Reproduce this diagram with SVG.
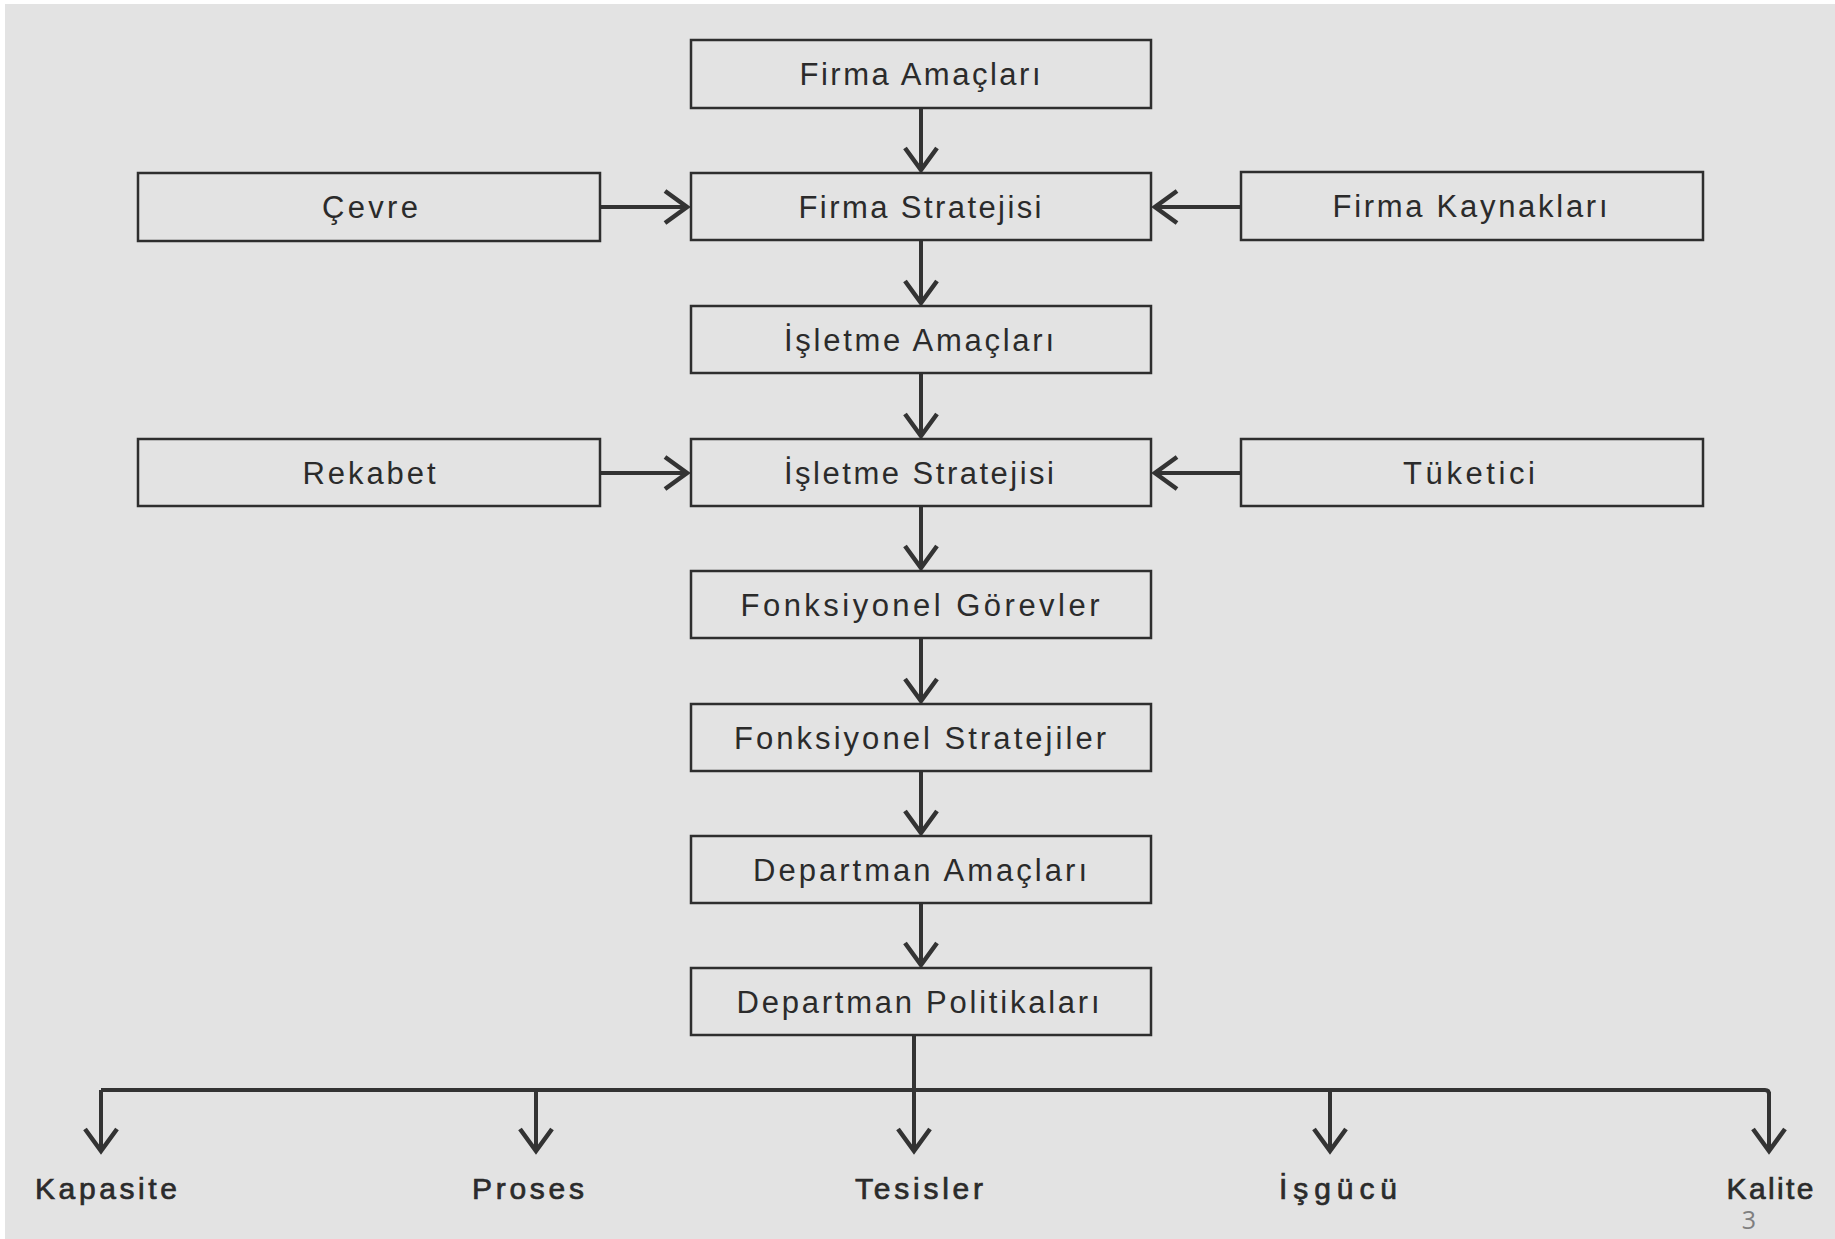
<svg xmlns="http://www.w3.org/2000/svg" width="1835" height="1239" viewBox="0 0 1835 1239">
<style>
.box{fill:none;stroke:#2e2e2e;stroke-width:2.5}
.t{font-family:"Liberation Sans",Arial,sans-serif;font-size:31px;fill:#2b2b2b;text-anchor:middle}
.b{font-family:"Liberation Sans",Arial,sans-serif;font-size:30px;fill:#2b2b2b;stroke:#2b2b2b;stroke-width:0.7;text-anchor:middle}
.c{fill:none;stroke:#333;stroke-width:4}
.a{marker-end:url(#arr)}
</style>
<defs>
<marker id="arr" markerUnits="userSpaceOnUse" markerWidth="50" markerHeight="50" viewBox="-30 -25 50 50" refX="0" refY="0" orient="auto" overflow="visible">
<path d="M-23,-16 L-1,0 L-23,16" fill="none" stroke="#333" stroke-width="4.5"/>
</marker>
</defs>
<rect x="0" y="0" width="1835" height="1239" fill="#ffffff"/>
<rect x="5" y="4" width="1830" height="1235" fill="#e3e3e3"/>
<g id="connectors">
<line class="c a" x1="921" y1="108" x2="921" y2="171"/>
<line class="c a" x1="921" y1="240" x2="921" y2="304"/>
<line class="c a" x1="921" y1="373" x2="921" y2="437"/>
<line class="c a" x1="921" y1="506" x2="921" y2="569"/>
<line class="c a" x1="921" y1="638" x2="921" y2="702"/>
<line class="c a" x1="921" y1="771" x2="921" y2="834"/>
<line class="c a" x1="921" y1="903" x2="921" y2="966"/>
<line class="c a" x1="600" y1="207" x2="688" y2="207"/>
<line class="c a" x1="1241" y1="207" x2="1154" y2="207"/>
<line class="c a" x1="600" y1="473" x2="688" y2="473"/>
<line class="c a" x1="1241" y1="473" x2="1154" y2="473"/>
<line class="c a" x1="914" y1="1035" x2="914" y2="1152"/>
<path class="c" d="M101,1090 H1765 Q1769,1090 1769,1094"/>
<line class="c a" x1="101" y1="1090" x2="101" y2="1152"/>
<line class="c a" x1="536" y1="1090" x2="536" y2="1152"/>
<line class="c a" x1="1330" y1="1090" x2="1330" y2="1152"/>
<line class="c a" x1="1769" y1="1092" x2="1769" y2="1152"/>
</g>
<g id="firma-amaclari"><rect class="box" x="691" y="40" width="460" height="68"/><text class="t" x="920" y="85" textLength="241" lengthAdjust="spacing">Firma Amaçları</text></g>
<g id="firma-stratejisi"><rect class="box" x="691" y="173" width="460" height="67"/><text class="t" x="920" y="218" textLength="243" lengthAdjust="spacing">Firma Stratejisi</text></g>
<g id="cevre"><rect class="box" x="138" y="173" width="462" height="68"/><text class="t" x="370" y="218" textLength="96" lengthAdjust="spacing">Çevre</text></g>
<g id="firma-kaynaklari"><rect class="box" x="1241" y="172" width="462" height="68"/><text class="t" x="1470" y="217" textLength="275" lengthAdjust="spacing">Firma Kaynakları</text></g>
<g id="isletme-amaclari"><rect class="box" x="691" y="306" width="460" height="67"/><text class="t" x="919" y="351" textLength="270" lengthAdjust="spacing">İşletme Amaçları</text></g>
<g id="isletme-stratejisi"><rect class="box" x="691" y="439" width="460" height="67"/><text class="t" x="919" y="484" textLength="270" lengthAdjust="spacing">İşletme Stratejisi</text></g>
<g id="rekabet"><rect class="box" x="138" y="439" width="462" height="67"/><text class="t" x="369" y="484" textLength="133" lengthAdjust="spacing">Rekabet</text></g>
<g id="tuketici"><rect class="box" x="1241" y="439" width="462" height="67"/><text class="t" x="1469" y="484" textLength="132" lengthAdjust="spacing">Tüketici</text></g>
<g id="fonksiyonel-gorevler"><rect class="box" x="691" y="571" width="460" height="67"/><text class="t" x="920" y="616" textLength="359" lengthAdjust="spacing">Fonksiyonel Görevler</text></g>
<g id="fonksiyonel-stratejiler"><rect class="box" x="691" y="704" width="460" height="67"/><text class="t" x="920" y="749" textLength="372" lengthAdjust="spacing">Fonksiyonel Stratejiler</text></g>
<g id="departman-amaclari"><rect class="box" x="691" y="836" width="460" height="67"/><text class="t" x="920" y="881" textLength="334" lengthAdjust="spacing">Departman Amaçları</text></g>
<g id="departman-politikalari"><rect class="box" x="691" y="968" width="460" height="67"/><text class="t" x="918" y="1013" textLength="363" lengthAdjust="spacing">Departman Politikaları</text></g>
<g id="kapasite"><text class="b" x="106" y="1199" textLength="142" lengthAdjust="spacing">Kapasite</text></g>
<g id="proses"><text class="b" x="528" y="1199" textLength="112" lengthAdjust="spacing">Proses</text></g>
<g id="tesisler"><text class="b" x="919" y="1199" textLength="128" lengthAdjust="spacing">Tesisler</text></g>
<g id="isgucu"><text class="b" x="1338" y="1199" textLength="118" lengthAdjust="spacing">İşgücü</text></g>
<g id="kalite"><text class="b" x="1770" y="1199" textLength="87" lengthAdjust="spacing">Kalite</text></g>
<text x="1749" y="1229" font-family="'Open Sans','Liberation Sans',sans-serif" font-size="25" fill="#7f7f7f" text-anchor="middle">3</text>
</svg>
